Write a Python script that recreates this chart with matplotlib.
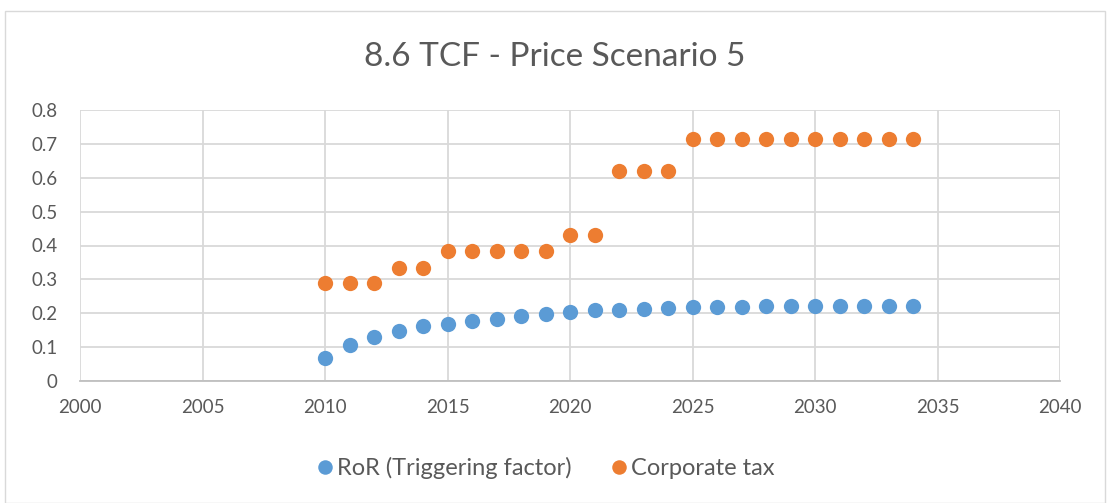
import matplotlib
matplotlib.use("Agg")
import matplotlib.pyplot as plt
from matplotlib.patches import Rectangle

years = list(range(2010, 2035))
ror = [0.069, 0.105, 0.131, 0.149, 0.163, 0.169, 0.178, 0.184, 0.192, 0.198,
       0.204, 0.209, 0.211, 0.213, 0.215, 0.217, 0.218, 0.219, 0.220, 0.220,
       0.221, 0.221, 0.222, 0.222, 0.222]
corp_tax = [0.289, 0.289, 0.289, 0.335, 0.335, 0.383, 0.383, 0.383, 0.383, 0.383,
            0.430, 0.430, 0.621, 0.621, 0.621, 0.715, 0.715, 0.715, 0.715, 0.715,
            0.715, 0.715, 0.715, 0.715, 0.715]
series_names = ["RoR (Triggering factor)", "Corporate tax"]
title = "8.6 TCF - Price Scenario 5"

plt.rcParams['font.family'] = ['Lato', 'DejaVu Sans']
TXT = '#595959'

fig = plt.figure(figsize=(11.10, 5.03), dpi=100)
fig.patches.append(Rectangle((5/1110, 0), 1100/1110, 1 - 11/503, transform=fig.transFigure,
                             fill=False, edgecolor='#d9d9d9', linewidth=1.0))
ax = fig.add_axes([80/1110, 1 - 381/503, 980/1110, (381 - 110)/503])

ax.plot(years, ror, 'o', color='#5B9BD5', markersize=11, markeredgewidth=0, label=series_names[0], zorder=3)
ax.plot(years, corp_tax, 'o', color='#ED7D31', markersize=11, markeredgewidth=0, label=series_names[1], zorder=3)

ax.set_xlim(2000, 2040)
ax.set_ylim(0, 0.8)
ax.set_xticks(range(2000, 2041, 5))
ax.set_yticks([0, 0.1, 0.2, 0.3, 0.4, 0.5, 0.6, 0.7, 0.8])
ax.set_yticklabels(['0', '0.1', '0.2', '0.3', '0.4', '0.5', '0.6', '0.7', '0.8'])
ax.grid(True, color='#d9d9d9', linewidth=1.3, zorder=0)
ax.set_axisbelow(True)
for s in ['top', 'right', 'left']:
    ax.spines[s].set_visible(False)
ax.spines['bottom'].set_color('#bfbfbf')
ax.spines['bottom'].set_linewidth(1.3)
ax.tick_params(length=0, labelsize=13.5, colors=TXT)
ax.tick_params(axis='y', pad=16)
ax.tick_params(axis='x', pad=13)

fig.text(0.5, 1 - 57/503, title, ha='center', va='center', fontsize=24, color=TXT)
leg = fig.legend(loc='center', bbox_to_anchor=(0.49, 1 - 468/503), ncol=2, frameon=False,
                 fontsize=17, labelcolor=TXT, handletextpad=0.0, handlelength=1.0,
                 columnspacing=1.5, markerscale=0.95)

fig.savefig('out.png', dpi=100)
